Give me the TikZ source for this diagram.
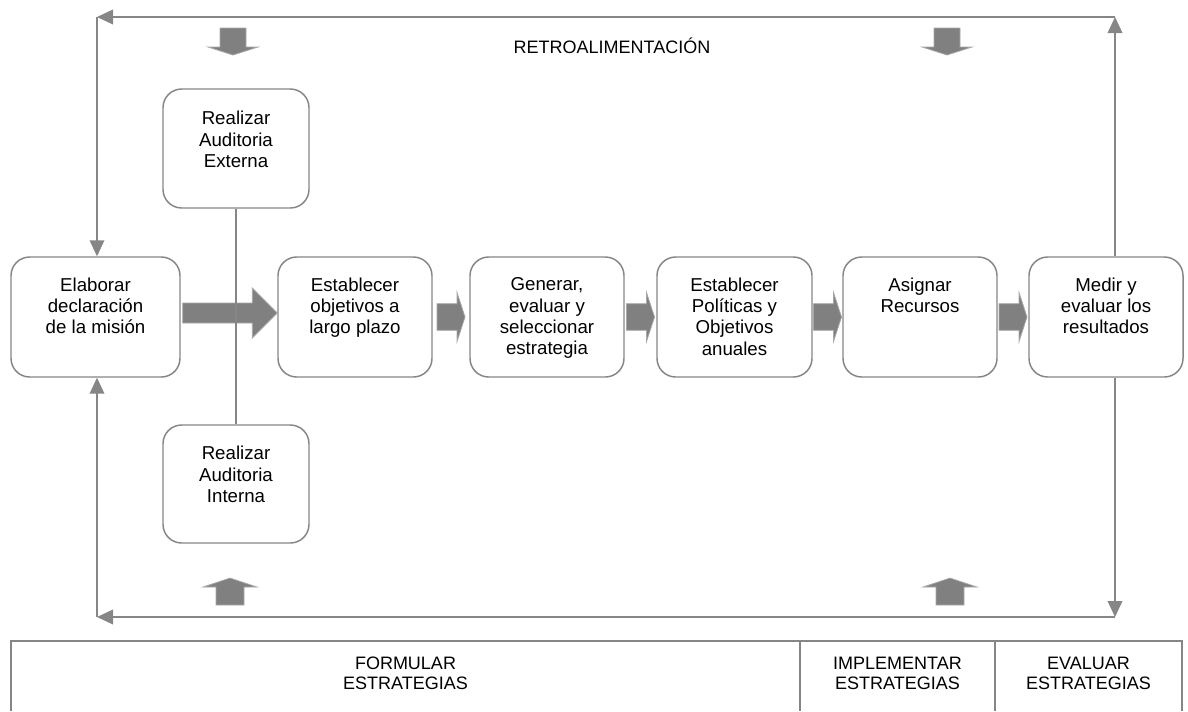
\documentclass[tikz,border=0pt]{standalone}
\usepackage{fontspec}
\setmainfont{Liberation Sans}
\usetikzlibrary{arrows.meta,calc}

\definecolor{linea}{RGB}{134,134,134}
\definecolor{relleno}{RGB}{128,128,128}
\definecolor{borde}{RGB}{168,168,168}

\tikzset{
  caja/.style={draw=linea, line width=1.1pt, rounded corners=14pt, inner sep=0pt},
  texto/.style={anchor=north, align=center, inner sep=0pt, font=\fontsize{14}{16}\selectfont},
  rotulo/.style={anchor=north, align=center, inner sep=0pt, font=\fontsize{13.5}{15}\selectfont},
  retro/.style={draw=linea, line width=1.1pt, -{Triangle[length=12pt,width=11pt]}},
  linea/.style={draw=linea, line width=1.1pt},
  flecha/.style={fill=relleno, draw=borde, line width=0.6pt}
}

\begin{document}
\begin{tikzpicture}[x=0.75pt, y=-0.75pt]
\useasboundingbox (0,0) rectangle (1188,711);

% fila principal
\foreach \nm/\cx/\an/\txt in {
  mision/95.5/169/{Elaborar\\declaración\\de la misión},
  objetivos/355/154/{Establecer\\objetivos a\\largo plazo},
  generar/547/154/{Generar,\\evaluar y\\seleccionar\\estrategia},
  politicas/734.5/155/{Establecer\\Políticas y\\Objetivos\\anuales},
  asignar/920/154/{Asignar\\Recursos},
  medir/1106/154/{Medir y\\evaluar los\\resultados}}
{
  \node[caja, minimum width=\an*0.75pt, minimum height=90pt] (\nm) at (\cx,317) {};
  \node[texto] (\nm-t) at (\cx,277.5) {\txt};
}

% auditorias
\node[caja, minimum width=109.5pt, minimum height=89.25pt] (externa) at (236,148.5) {};
\node[texto] (externa-t) at (236,111) {Realizar\\Auditoria\\Externa};
\node[caja, minimum width=109.5pt, minimum height=88.5pt] (interna) at (236,484) {};
\node[texto] (interna-t) at (236,446) {Realizar\\Auditoria\\Interna};

% flecha grande
\draw[flecha] let \p1=(mision.east), \p2=(objetivos.west) in
  (\x1+1.5pt,\y1+10.5pt) -- (\x2-18.75pt,\y1+10.5pt) -- (\x2-18.75pt,\y1+21.75pt)
  -- (\x2,\y1+3pt) -- (\x2-18.75pt,\y1-15.75pt) -- (\x2-18.75pt,\y1-4.5pt)
  -- (\x1+1.5pt,\y1-4.5pt) -- cycle;

\draw[linea] (externa.south) -- (interna.north);

% flechas entre etapas
\foreach \a/\b in {objetivos/generar, generar/politicas, politicas/asignar, asignar/medir}
  \draw[flecha] let \p3=($(\a.east)!0.5!(\b.west)$) in
    (\x3-10.5pt,\y3+10pt) -- (\x3+4.5pt,\y3+10pt) -- (\x3+4.5pt,\y3+18.4pt)
    -- (\x3+10.5pt,\y3) -- (\x3+4.5pt,\y3-18.4pt) -- (\x3+4.5pt,\y3-10pt)
    -- (\x3-10.5pt,\y3-10pt) -- cycle;

% retroalimentacion
\coordinate (si) at (97,17);
\coordinate (sd) at (1115,17);
\coordinate (ii) at (97,617);
\coordinate (id) at (1115,617);

\draw[retro] (medir.north -| sd) -- (sd);
\draw[retro] (sd) -- (si);
\draw[retro] (si) -- (si |- mision.north);
\draw[retro] (medir.south -| id) -- (id);
\draw[retro] (id) -- (ii);
\draw[retro] (ii) -- (ii |- mision.south);

\node[rotulo] (retro) at (612,37.5) {RETROALIMENTACIÓN};

\foreach \cx in {233,947}
  \draw[flecha] (\cx-13,28) -- (\cx+13,28) -- (\cx+13,47) -- (\cx+25,47)
    -- (\cx,55) -- (\cx-25,47) -- (\cx-13,47) -- cycle;
\foreach \cx in {230,950}
  \draw[flecha] (\cx-14,605) -- (\cx+14,605) -- (\cx+14,587) -- (\cx+27,587)
    -- (\cx,578) -- (\cx-27,587) -- (\cx-14,587) -- cycle;

% tabla
\draw[linea] (11,711) -- (11,641) -- (1182,641) -- (1182,711);
\draw[linea] (800,641) -- (800,711);
\draw[linea] (995,641) -- (995,711);

\node[rotulo] (formular) at (405.5,656.5) {FORMULAR\\ESTRATEGIAS};
\node[rotulo] (implementar) at (897.5,656.5) {IMPLEMENTAR\\ESTRATEGIAS};
\node[rotulo] (evaluar) at (1088.5,656.5) {EVALUAR\\ESTRATEGIAS};

\end{tikzpicture}
\end{document}
